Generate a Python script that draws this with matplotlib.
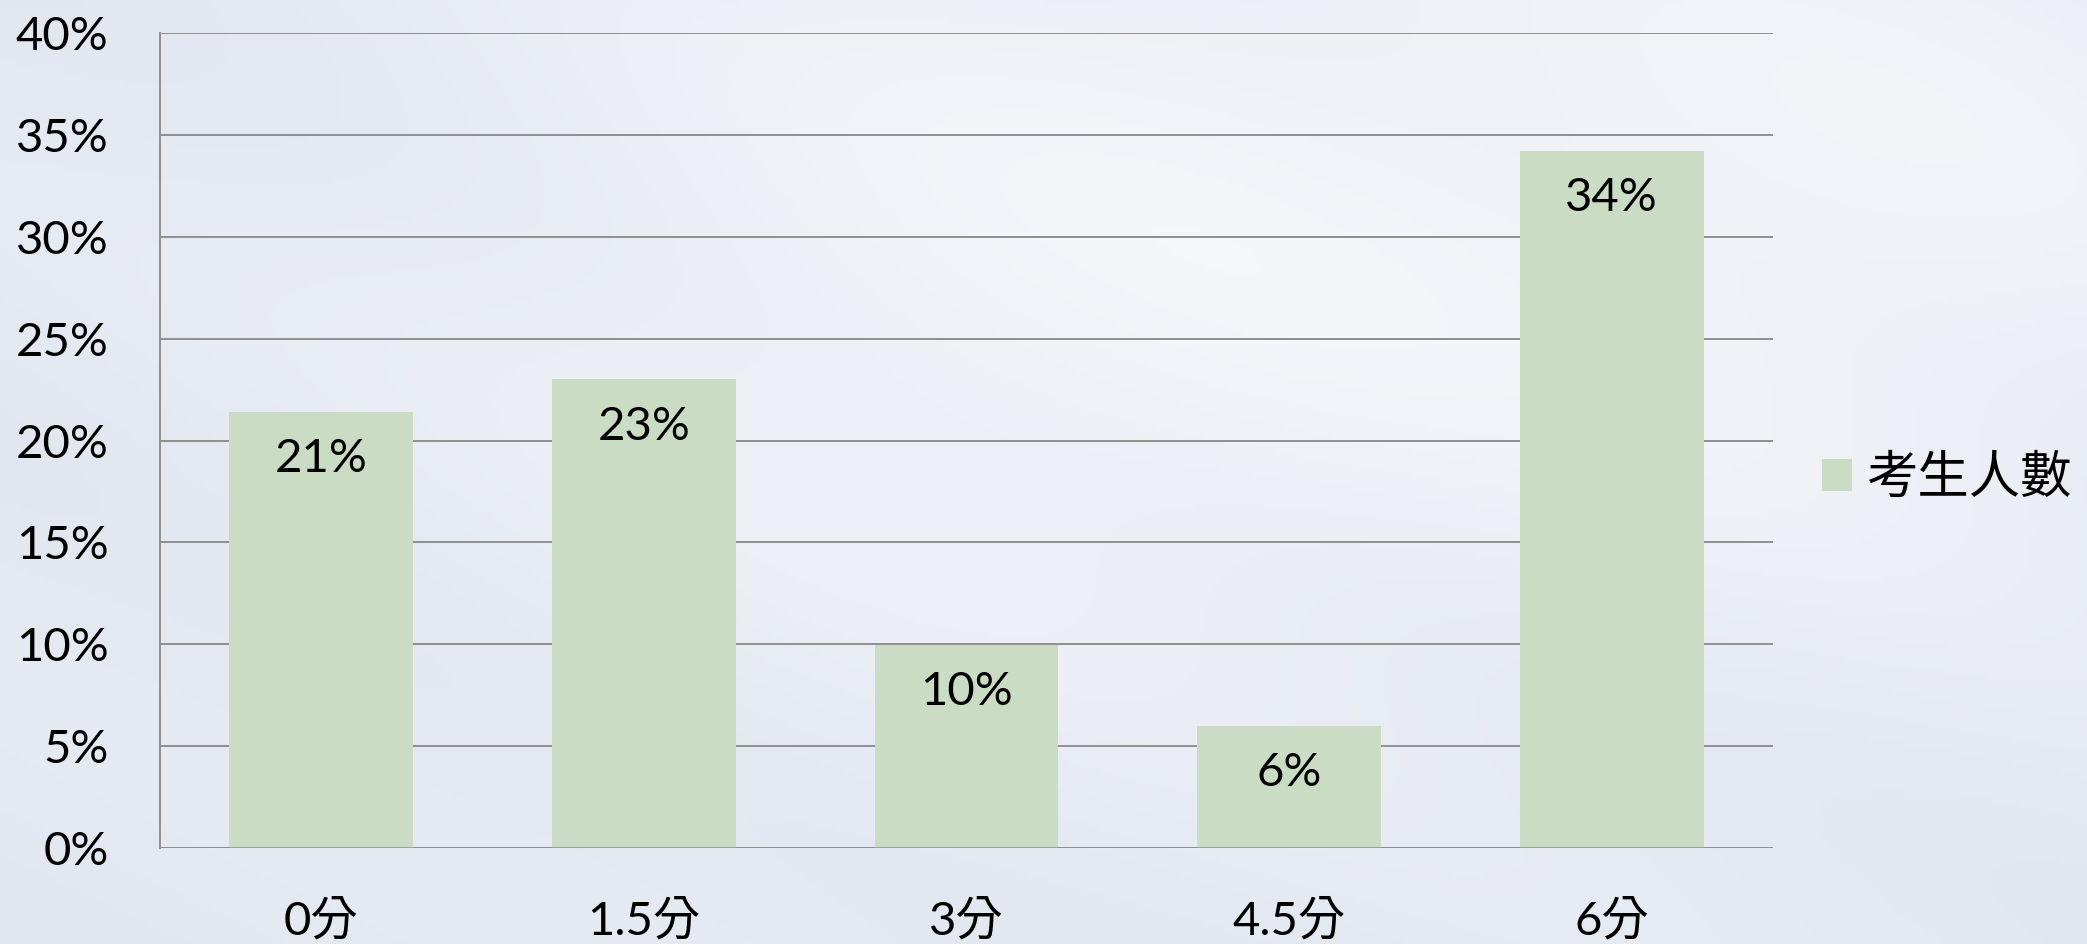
import numpy as np
import matplotlib
matplotlib.use("Agg")
import matplotlib.pyplot as plt
from matplotlib.colors import LinearSegmentedColormap

categories = ["0分", "1.5分", "3分", "4.5分", "6分"]
values = [21.4, 23.0, 9.95, 6.0, 34.2]
labels = ["21%", "23%", "10%", "6%", "34%"]
yticks = [0, 5, 10, 15, 20, 25, 30, 35, 40]
series_name = "考生人數"

W, H, DPI = 2087, 944, 100
fig = plt.figure(figsize=(W / DPI, H / DPI), dpi=DPI)

# background: soft marble-like bluish gradient
bg = fig.add_axes([0, 0, 1, 1], zorder=-10)
yy, xx = np.mgrid[0:1:200j, 0:1:440j]
field = (0.55 * np.exp(-((xx - 0.55) ** 2 / 0.12 + (yy - 0.75) ** 2 / 0.25))
         + 0.35 * np.exp(-((xx - 0.95) ** 2 / 0.05 + (yy - 0.8) ** 2 / 0.2))
         + 0.15 * np.sin(6 * (xx + yy)) ** 2)
field = (field - field.min()) / (field.max() - field.min())
cmap = LinearSegmentedColormap.from_list("bg", ["#e1e6f0", "#f5f6fa"])
bg.imshow(field, cmap=cmap, aspect="auto", extent=[0, 1, 0, 1], origin="lower")
bg.axis("off")

fam = ["Lato", "Noto Sans CJK TC"]
ax = fig.add_axes([160 / W, 1 - 848 / H, (1773 - 160) / W, (848 - 33) / H])
ax.patch.set_alpha(0)
x = np.arange(len(categories))
bars = ax.bar(x, values, width=0.57, color="#cadcc4", zorder=3, label=series_name)
ax.set_xlim(-0.5, len(categories) - 0.5)
ax.set_ylim(0, 40)
ax.set_yticks(yticks)
ax.set_yticklabels([f"{v}%" for v in yticks], fontsize=34, family=fam)
ax.set_xticks(x)
ax.set_xticklabels(categories, fontsize=34, family=fam)
ax.tick_params(axis="both", length=0)
ax.tick_params(axis="y", pad=37)
ax.tick_params(axis="x", pad=37)
ax.yaxis.grid(True, color="#8f8f8f", linewidth=1.4, zorder=1)
for s in ["top", "right", "bottom"]:
    ax.spines[s].set_visible(False)
ax.spines["left"].set_color("#8f8f8f")
ax.spines["left"].set_linewidth(1.4)
ax.axhline(0, color="#8f8f8f", linewidth=1.8, zorder=4)

for b, lab in zip(bars, labels):
    ax.annotate(lab, (b.get_x() + b.get_width() / 2, b.get_height()),
                xytext=(0, -34), textcoords="offset points",
                ha="center", va="center", fontsize=34, family=fam, zorder=5)

leg = fig.legend(handles=[bars], labels=[series_name], loc="center left",
                 bbox_to_anchor=(1822 / W, 1 - 478 / H), frameon=False,
                 borderpad=0, borderaxespad=0,
                 prop={"family": ["Noto Sans CJK TC"], "size": 37},
                 handlelength=0.58, handleheight=0.58, handletextpad=0.3)

fig.savefig("out.png", dpi=DPI)
